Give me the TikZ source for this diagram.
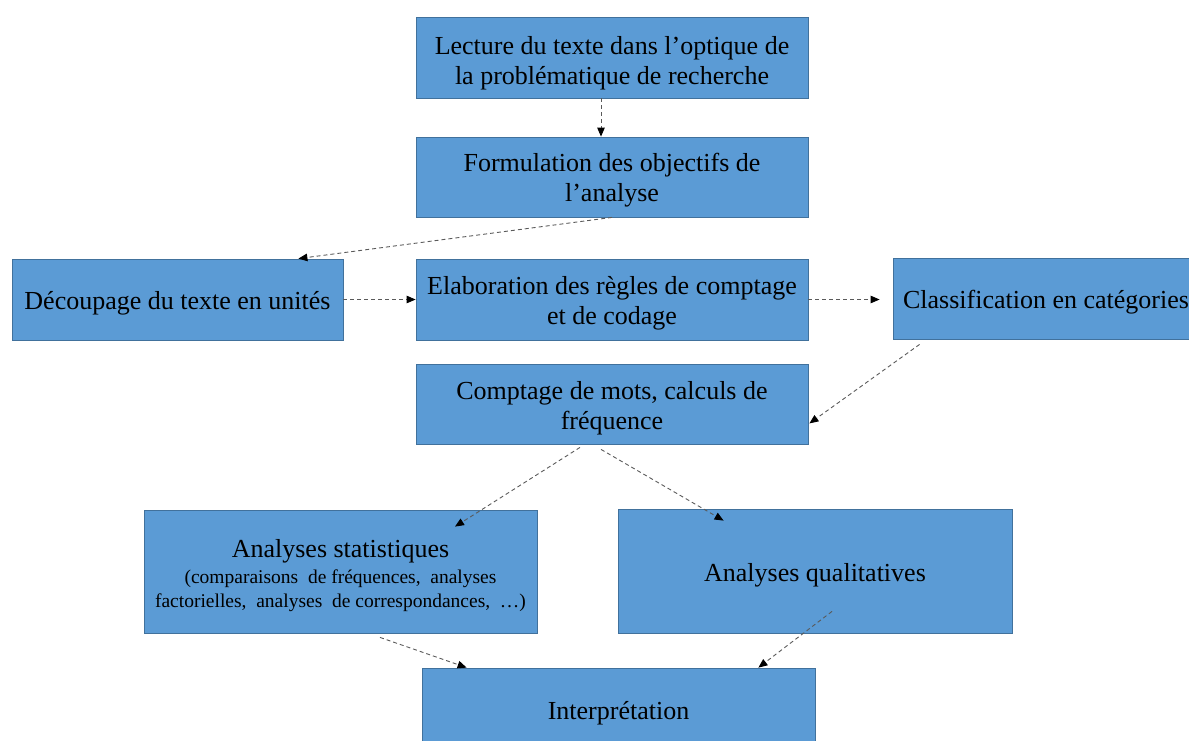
\documentclass[tikz,border=0pt]{standalone}
\usepackage{fontspec}
\setmainfont{Liberation Serif}
\usetikzlibrary{arrows.meta,calc}
\definecolor{boxfill}{RGB}{91,155,213}
\definecolor{boxline}{RGB}{65,113,156}
\definecolor{linkgray}{RGB}{90,90,90}
\newcommand{\smalltext}{\fontsize{19.5}{25}\selectfont}
\begin{document}
\begin{tikzpicture}[x=1pt,y=-1pt,
  stepbox/.style={draw=boxline,fill=boxfill,line width=0.8pt,inner sep=0pt,
    align=center,font=\fontsize{26}{30}\selectfont,text=black,
    execute at end node={\rule[-7.4pt]{0pt}{7.4pt}}},
  % invisible strut of the given height: it fixes where the text block
  % sits in its box, whatever letters the lines hold
  texttop/.style={execute at begin node={\rule{0pt}{#1}}},
  link/.style={draw=linkgray,line width=0.9pt,dash pattern=on 4pt off 3pt,
    -{Triangle[length=9pt,width=7.5pt,fill=black,color=black]}}]
\clip (0,0) rectangle (1189,740);

% process steps
\node[stepbox,texttop=62pt,minimum width=392pt,minimum height=81pt] (lect) at (612,57.5)
  {Lecture du texte dans l’optique de\\la problématique de recherche};
\node[stepbox,texttop=57pt,minimum width=392pt,minimum height=80pt] (form) at (612,177)
  {Formulation des objectifs de\\l’analyse};
\node[stepbox,texttop=27pt,minimum width=331pt,minimum height=81pt] (dec) at (177.5,299.5)
  {Découpage du texte en unités};
\node[stepbox,texttop=27pt,minimum width=306pt,minimum height=81pt] (class) at (1046,298.5)
  {Classification en catégories};
\node[stepbox,texttop=58pt,minimum width=392pt,minimum height=81pt] (elab) at (612,299.5)
  {Elaboration des règles de comptage\\et de codage};
\node[stepbox,texttop=58pt,minimum width=392pt,minimum height=80pt] (compt) at (612,404)
  {Comptage de mots, calculs de\\fréquence};
\node[stepbox,texttop=79pt,minimum width=393pt,minimum height=123pt] (stat) at (340.5,571.5)
  {Analyses statistiques\\[-4pt]
   {\smalltext (comparaisons\ \ de fréquences,\ \ analyses}\\[-6pt]
   {\smalltext factorielles,\ \ analyses\ \ de correspondances,\ \ …)}};
\node[stepbox,texttop=29pt,minimum width=394pt,minimum height=124pt] (qual) at (815,571)
  {Analyses qualitatives};
\node[stepbox,texttop=27pt,minimum width=393pt,minimum height=84pt] (interp) at (618.5,710)
  {Interprétation};

% connectors
\draw[link] ([xshift=-11pt]lect.south) -- ([xshift=-11pt]form.north);
\draw[link] (form.south) -- ($(dec.north east)+(-45,0)$);
\draw[link] (dec.east) -- (elab.west);
\draw[link] (elab.east) -- ($(class.west)+(-13,1)$);
\draw[link] ($(class.south west)+(27,5)$) -- ($(compt.south east)+(1,-21)$);
\draw[link] ($(compt.south)+(-32,3)$) -- ($(stat.north)+(114.5,17)$);
\draw[link] ($(compt.south)+(-11,5)$) -- ($(qual.north west)+(106,12)$);
\draw[link] ($(stat.south)+(39.5,4)$) -- ($(interp.north west)+(45,0)$);
\draw[link] ($(qual.south)+(17,-22)$) -- ($(interp.north east)+(-57,0)$);
\end{tikzpicture}
\end{document}
